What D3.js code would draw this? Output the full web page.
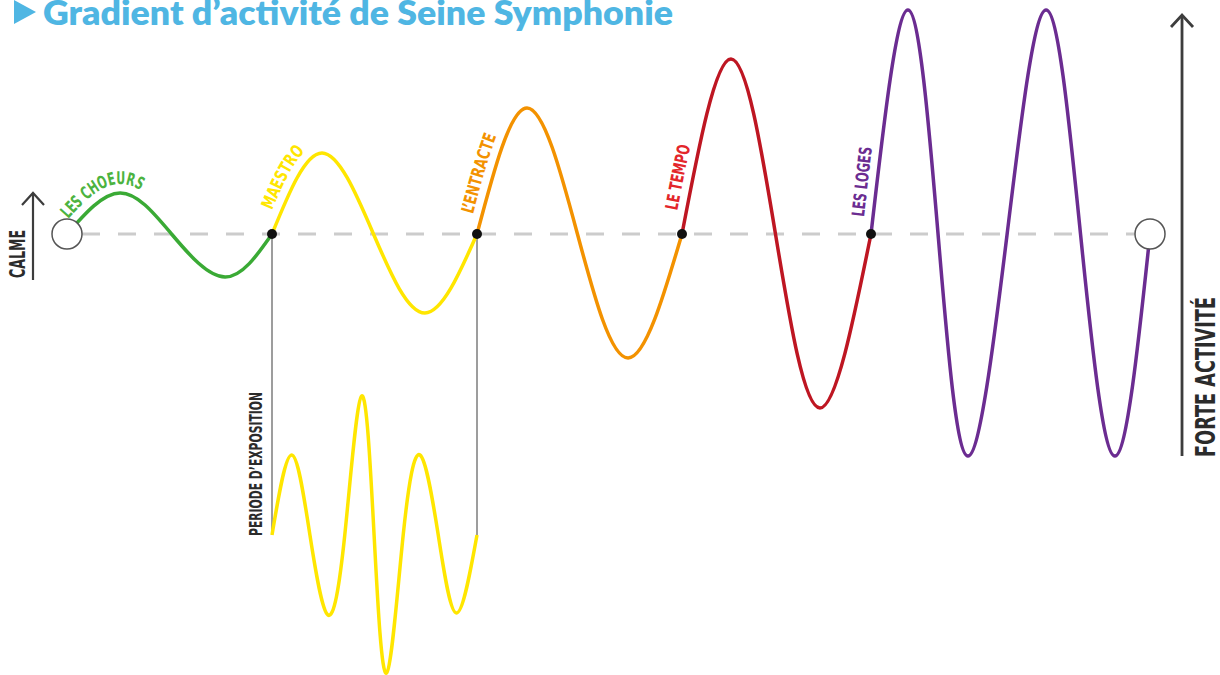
<!DOCTYPE html>
<html>
<head>
<meta charset="utf-8">
<script src="https://cdn.jsdelivr.net/npm/d3@7"></script>
<style>
  body { margin: 0; background: #fff; }
  svg { display: block; }
  .lbl { font-family: "Liberation Sans Narrow", "DejaVu Sans Condensed", sans-serif; font-weight: bold; }
</style>
</head>
<body>
<div id="chart"></div>
<script>
// segments of the activity gradient (x = time units, y = activity units)
const labels = ["LES CHOEURS", "MAESTRO", "L\u2019ENTRACTE", "LE TEMPO", "LES LOGES"];
const colors = ["#3aaa35", "#ffe600", "#f39200", "#be1622", "#6b2c91"];
const labelColors = ["#4cb340", "#ffe600", "#f39200", "#e3262a", "#6b2c91"];

// key points (zero crossings, peaks, troughs)
const waveChoeurs  = [[0, 0], [0.259, 10.25], [0.51, 0], [0.771, -10.75], [1, 0]];
const waveMaestro  = [[1, 0], [1.244, 20.25], [1.495, 0], [1.746, -19.75], [2, 0]];
const waveEntracte = [[2, 0], [2.244, 31.5], [2.49, 0], [2.737, -31], [3, 0]];
const waveTempo    = [[3, 0], [3.239, 43.75], [3.456, 0], [3.673, -43.5], [3.922, 0]];
const waveLoges    = [[3.922, 0], [4.102, 56], [4.249, 0], [4.395, -55.5], [4.586, 0],
                      [4.776, 56], [4.944, 0], [5.112, -55.5], [5.283, 0]];
const waves = [waveChoeurs, waveMaestro, waveEntracte, waveTempo, waveLoges];

// zoom on the exposure period (under MAESTRO)
const waveExposition = [[1, 0], [1.096, 20], [1.185, 0], [1.273, -20], [1.355, 0],
                        [1.437, 34.75], [1.498, 0], [1.559, -34.5], [1.64, 0],
                        [1.722, 20], [1.811, 0], [1.9, -19.5], [2, 0]];

const startX = 0, endX = 5.283;
const exposX = [1, 2];

const width = 1220, height = 675;

const svg = d3.select("#chart").append("svg")
    .attr("width", width)
    .attr("height", height);

const x = d3.scaleLinear().domain([0, 5]).range([67, 1092]);
const y = d3.scaleLinear().domain([-60, 60]).range([474, -6]);
const yExpo = y.copy().range([474 + 301, -6 + 301]);

const line = d3.line()
    .x(d => x(d[0]))
    .y(d => y(d[1]))
    .curve(d3.curveNatural);
const lineExpo = d3.line()
    .x(d => x(d[0]))
    .y(d => yExpo(d[1]))
    .curve(d3.curveNatural);

// title
svg.append("path")
    .attr("d", "M14,0 L36,12 L14,24 Z")
    .attr("fill", "#4fb6e3");
svg.append("text")
    .attr("x", 43).attr("y", 25)
    .attr("font-family", "Lato, 'Open Sans', sans-serif")
    .attr("font-weight", 800)
    .attr("font-size", 33)
    .attr("textLength", 630)
    .attr("lengthAdjust", "spacingAndGlyphs")
    .attr("fill", "#4fb6e3")
    .text("Gradient d\u2019activit\u00e9 de Seine Symphonie");

// dashed baseline
svg.append("line")
    .attr("x1", x(startX) + 15).attr("x2", x(endX) - 15)
    .attr("y1", y(0)).attr("y2", y(0))
    .attr("stroke", "#cccccc")
    .attr("stroke-width", 3)
    .attr("stroke-dasharray", "18,18");

// grey drop lines to the exposure zoom
svg.selectAll(".drop")
    .data(exposX)
    .enter().append("line")
    .attr("class", "drop")
    .attr("x1", d => x(d)).attr("x2", d => x(d))
    .attr("y1", y(0)).attr("y2", yExpo(0))
    .attr("stroke", "#9d9d9d")
    .attr("stroke-width", 2);

// exposure wave
svg.append("path")
    .attr("d", lineExpo(waveExposition))
    .attr("fill", "none")
    .attr("stroke", colors[1])
    .attr("stroke-width", 3.5);

svg.append("text")
    .attr("class", "lbl")
    .attr("transform", `translate(${x(1) - 10},${yExpo(0) + 1}) rotate(-90)`)
    .attr("font-size", 17)
    .attr("textLength", 144)
    .attr("lengthAdjust", "spacingAndGlyphs")
    .attr("fill", "#2b2b2b")
    .text("PERIODE D\u2019EXPOSITION");

// main waves
const paths = svg.selectAll(".wave")
    .data(waves)
    .enter().append("path")
    .attr("class", "wave")
    .attr("d", d => line(d))
    .attr("fill", "none")
    .attr("stroke", (d, i) => colors[i])
    .attr("stroke-width", 3.5);

// labels following the curves, slightly offset to the upper-left side
const labelStart = [12, 22, 18, 22, 16];
const labelLen = [86, 68, 82, 66, 70];
const offset = 9;
paths.each(function(d, i) {
    const node = this;
    const total = node.getTotalLength();
    const pts = [];
    const upto = Math.min(total, 170);
    for (let s = 0; s <= upto; s += 2) {
        const p = node.getPointAtLength(s);
        const q = node.getPointAtLength(Math.min(total, s + 0.5));
        const r = node.getPointAtLength(Math.max(0, s - 0.5));
        let tx = q.x - r.x, ty = q.y - r.y;
        const n = Math.hypot(tx, ty) || 1;
        tx /= n; ty /= n;
        pts.push([p.x + ty * offset, p.y - tx * offset]);
    }
    svg.append("path")
        .attr("id", "lp" + i)
        .attr("d", d3.line()(pts))
        .attr("fill", "none");
    svg.append("text")
        .attr("class", "lbl")
        .attr("font-size", 17.5)
        .attr("fill", labelColors[i])
        .append("textPath")
        .attr("href", "#lp" + i)
        .attr("startOffset", labelStart[i])
        .attr("textLength", labelLen[i])
        .attr("lengthAdjust", "spacingAndGlyphs")
        .text(labels[i]);
});

// joints between segments
svg.selectAll(".joint")
    .data(waves.slice(1).map(w => w[0][0]))
    .enter().append("circle")
    .attr("class", "joint")
    .attr("cx", d => x(d))
    .attr("cy", y(0))
    .attr("r", 5)
    .attr("fill", "#111");

// start / end circles
svg.selectAll(".end")
    .data([startX, endX])
    .enter().append("circle")
    .attr("class", "end")
    .attr("cx", d => x(d))
    .attr("cy", y(0))
    .attr("r", 15)
    .attr("fill", "#fff")
    .attr("stroke", "#555")
    .attr("stroke-width", 1.5);

// axis arrows
function arrow(ax, y1, y2, w) {
    svg.append("line")
        .attr("x1", ax).attr("x2", ax)
        .attr("y1", y1).attr("y2", y2)
        .attr("stroke", "#3d3d3d")
        .attr("stroke-width", w);
    svg.append("path")
        .attr("d", `M${ax - 11},${y2 + 12} L${ax},${y2} L${ax + 11},${y2 + 12}`)
        .attr("fill", "none")
        .attr("stroke", "#3d3d3d")
        .attr("stroke-width", w);
}
arrow(x(startX) - 34, y(0) + 46, y(0) - 41, 2.2);
arrow(x(endX) + 32, y(-55.5), y(55.5) + 3, 2.8);

svg.append("text")
    .attr("class", "lbl")
    .attr("transform", `translate(${x(startX) - 42},${y(0) + 44}) rotate(-90)`)
    .attr("font-size", 21)
    .attr("textLength", 48)
    .attr("lengthAdjust", "spacingAndGlyphs")
    .attr("fill", "#2b2b2b")
    .text("CALME");

svg.append("text")
    .attr("class", "lbl")
    .attr("transform", `translate(${x(endX) + 65},${y(-55.5) + 1}) rotate(-90)`)
    .attr("font-size", 26)
    .attr("textLength", 160)
    .attr("lengthAdjust", "spacingAndGlyphs")
    .attr("fill", "#2b2b2b")
    .text("FORTE ACTIVIT\u00c9");
</script>
</body>
</html>
